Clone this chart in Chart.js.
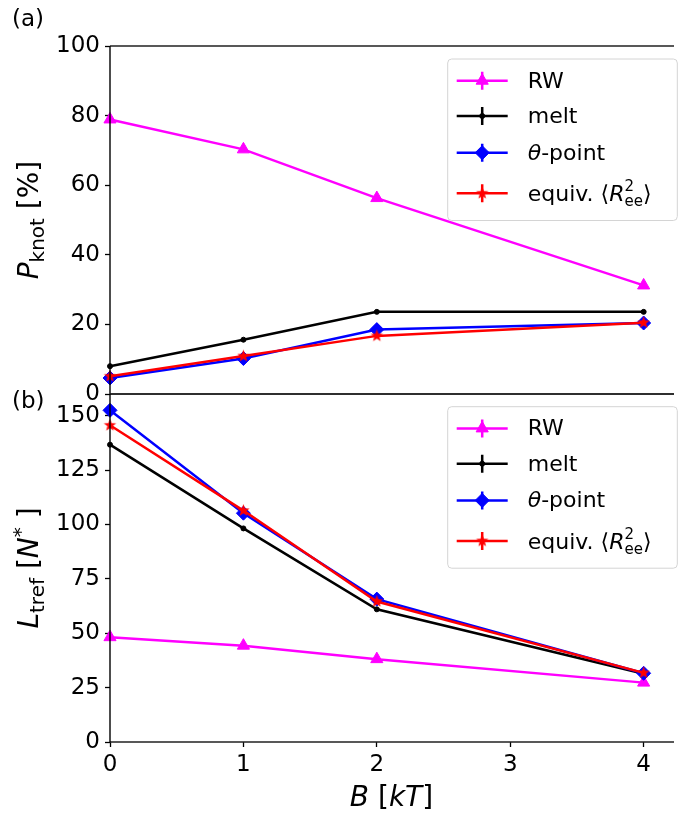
<!DOCTYPE html>
<html>
<head>
<meta charset="utf-8">
<script src="https://cdn.jsdelivr.net/npm/chart.js@4.4.1/dist/chart.umd.min.js"></script>
<style>
  body { margin: 0; background: #fff; }
  #wrap { position: relative; width: 681px; height: 815px; }
  canvas { position: absolute; left: 0; }
  #top { top: 0; }
  #bottom { top: 360px; }
</style>
</head>
<body>
<div id="wrap">
  <canvas id="top"></canvas>
  <canvas id="bottom"></canvas>
</div>
<script>
// x values (bending stiffness B in kT) and tick labels
const bValues = [0, 1, 2, 4];
const xTicks = [0, 1, 2, 3, 4];

// panel (a): knotting probability [%]
const pknotRW = [78.9, 70.3, 56.3, 31.2];
const pknotMelt = [8.0, 15.6, 23.6, 23.6];
const pknotTheta = [4.6, 10.2, 18.5, 20.4];
const pknotEquiv = [5.1, 10.9, 16.7, 20.5];
const pknotTicks = [0, 20, 40, 60, 80, 100];

// panel (b): trefoil length [N*]
const ltrefRW = [48.2, 44.3, 38.1, 27.3];
const ltrefMelt = [136.7, 98.2, 61.0, 31.4];
const ltrefTheta = [152.5, 105.2, 65.7, 31.6];
const ltrefEquiv = [145.6, 106.4, 64.6, 31.8];
const ltrefTicks = [0, 25, 50, 75, 100, 125, 150];

const seriesNames = ["RW", "melt", "θ-point", "equiv. ⟨R²ee⟩"];

const FONT = "'DejaVu Sans', sans-serif";

function font(size, italic) {
  return (italic ? "italic " : "") + size + "px " + FONT;
}

// filled 5-point star, matplotlib '*' marker look-alike
function makeStar(color, r) {
  const c = document.createElement("canvas");
  const s = Math.ceil(r * 2 + 2);
  c.width = s;
  c.height = s;
  const g = c.getContext("2d");
  g.fillStyle = color;
  g.beginPath();
  for (let k = 0; k < 10; k++) {
    const rr = k % 2 === 0 ? r : r * 0.42;
    const a = -Math.PI / 2 + (k * Math.PI) / 5;
    g.lineTo(s / 2 + rr * Math.cos(a), s / 2 + rr * Math.sin(a));
  }
  g.closePath();
  g.fill();
  return c;
}

const styles = [
  { color: "#ff00ff", pointStyle: "triangle", radius: 7 },
  { color: "#000000", pointStyle: "circle", radius: 2.5 },
  { color: "#0000ff", pointStyle: "rectRot", radius: 7 },
  { color: "#ff0000", pointStyle: makeStar("#ff0000", 6.5), radius: 6 },
];

// pieces of rich text: {t, size, italic, dy, stay}
function drawParts(ctx, parts, x, y, align) {
  let total = 0;
  for (const p of parts) {
    ctx.font = font(p.size, p.italic);
    if (!p.stay) total += ctx.measureText(p.t).width;
  }
  let cx = align === "center" ? x - total / 2 : x;
  ctx.textAlign = "left";
  ctx.textBaseline = "alphabetic";
  for (const p of parts) {
    ctx.font = font(p.size, p.italic);
    ctx.fillText(p.t, cx, y + (p.dy || 0));
    if (!p.stay) cx += ctx.measureText(p.t).width;
  }
}

const legendParts = [
  [{ t: "RW", size: 22 }],
  [{ t: "melt", size: 22 }],
  [{ t: "θ", size: 22, italic: true }, { t: "-point", size: 22 }],
  [
    { t: "equiv. ⟨", size: 22 },
    { t: "R", size: 22, italic: true },
    { t: "2", size: 15, dy: -10, stay: true },
    { t: "ee", size: 15, dy: 5 },
    { t: "⟩", size: 22 },
  ],
];

function makeDatasets(lists) {
  return lists.map((vals, i) => ({
    label: seriesNames[i],
    data: bValues.map((b, j) => ({ x: b, y: vals[j] })),
    borderColor: styles[i].color,
    backgroundColor: styles[i].color,
    pointBackgroundColor: styles[i].color,
    pointBorderColor: styles[i].color,
    pointStyle: styles[i].pointStyle,
    pointRadius: styles[i].radius,
    pointBorderWidth: 1,
    borderWidth: 2.5,
    clip: false,
    order: 4 - i,
  }));
}

// spines: black left, dark horizontal lines
const framePlugin = {
  id: "frame",
  afterDraw(chart) {
    const { ctx, chartArea: a } = chart;
    ctx.save();
    ctx.strokeStyle = "#222";
    ctx.lineWidth = 1.6;
    ctx.beginPath();
    ctx.moveTo(a.left, a.top);
    ctx.lineTo(a.right + 1, a.top);
    ctx.moveTo(a.left, a.bottom);
    ctx.lineTo(a.right + 1, a.bottom);
    ctx.stroke();
    ctx.strokeStyle = "#000";
    ctx.lineWidth = 1.4;
    ctx.beginPath();
    ctx.moveTo(a.left, a.top);
    ctx.lineTo(a.left, a.bottom);
    ctx.stroke();
    ctx.restore();
  },
};

const legendPlugin = {
  id: "panelLegend",
  afterDraw(chart, args, opts) {
    const ctx = chart.ctx;
    const x0 = opts.x, y0 = opts.y, w = 229.6, h = 161.5;
    ctx.save();
    ctx.beginPath();
    ctx.roundRect(x0, y0, w, h, 4);
    ctx.fillStyle = "rgba(255,255,255,0.8)";
    ctx.fill();
    ctx.strokeStyle = "#d4d4d4";
    ctx.lineWidth = 1;
    ctx.stroke();
    const rows = [21.7, 57, 93.7, 134.3];
    rows.forEach((dy, i) => {
      const cy = y0 + dy;
      const cx = x0 + 34.5;
      ctx.strokeStyle = styles[i].color;
      ctx.fillStyle = styles[i].color;
      ctx.lineWidth = 2.5;
      ctx.beginPath();
      ctx.moveTo(x0 + 9, cy);
      ctx.lineTo(x0 + 60, cy);
      ctx.moveTo(cx, cy - 9);
      ctx.lineTo(cx, cy + 9);
      ctx.stroke();
      ctx.lineWidth = 1;
      Chart.helpers.drawPoint(ctx, {
        pointStyle: styles[i].pointStyle,
        radius: styles[i].radius,
        rotation: 0,
        borderWidth: 1,
      }, cx, cy);
      ctx.fillStyle = "#000";
      drawParts(ctx, legendParts[i], x0 + 80, cy + (i === 3 ? 8 : 7), "left");
    });
    ctx.restore();
  },
};

const labelsPlugin = {
  id: "axisText",
  afterDraw(chart, args, opts) {
    const ctx = chart.ctx;
    const a = chart.chartArea;
    ctx.save();
    ctx.fillStyle = "#000";
    drawParts(ctx, [{ t: opts.panel, size: 23 }], 12, opts.panelY, "left");
    ctx.translate(38, (a.top + a.bottom) / 2);
    ctx.rotate(-Math.PI / 2);
    drawParts(ctx, opts.yTitle, 0, 0, "center");
    ctx.restore();
    if (opts.xTitle) {
      ctx.save();
      ctx.fillStyle = "#000";
      drawParts(ctx, opts.xTitle, (a.left + a.right) / 2, a.bottom + 64, "center");
      ctx.restore();
    }
  },
};

function setTicks(list) {
  return (scale) => {
    scale.ticks = list.map((v) => ({ value: v }));
  };
}

function yScale(ticks, max) {
  return {
    type: "linear",
    min: 0,
    max: max,
    afterBuildTicks: setTicks(ticks),
    afterFit(scale) {
      scale.width = 110;
    },
    grid: { drawOnChartArea: false, tickLength: 5, tickWidth: 1.3, tickColor: "#000" },
    border: { display: false },
    ticks: { font: { family: FONT, size: 23 }, color: "#000", padding: 5, autoSkip: false },
  };
}

function xScale(show) {
  return {
    type: "linear",
    min: 0,
    max: 4.22,
    display: show,
    afterBuildTicks: setTicks(xTicks),
    afterFit(scale) {
      scale.height = show ? 73 : 0;
    },
    grid: { drawOnChartArea: false, tickLength: 5, tickWidth: 1.3, tickColor: "#000" },
    border: { display: false },
    ticks: { font: { family: FONT, size: 23 }, color: "#000", padding: 4, autoSkip: false, maxRotation: 0 },
  };
}

function makeChart(id, w, h, lists, yTicks, yMax, padding, plugOpts) {
  const canvas = document.getElementById(id);
  canvas.width = w;
  canvas.height = h;
  canvas.style.width = w + "px";
  canvas.style.height = h + "px";
  return new Chart(canvas, {
    type: "line",
    data: { datasets: makeDatasets(lists) },
    options: {
      responsive: false,
      animation: false,
      devicePixelRatio: 1,
      layout: { padding: padding },
      scales: { x: xScale(plugOpts.showX), y: yScale(yTicks, yMax) },
      plugins: {
        legend: { display: false },
        tooltip: { enabled: false },
        panelLegend: plugOpts.legend,
        axisText: plugOpts.text,
      },
    },
    plugins: [framePlugin, legendPlugin, labelsPlugin],
  });
}

makeChart("top", 681, 420, [pknotRW, pknotMelt, pknotTheta, pknotEquiv], pknotTicks, 100,
  { top: 46, right: 1, bottom: 26, left: 0 },
  {
    showX: false,
    legend: { x: 447.7, y: 59 },
    text: {
      panel: "(a)",
      panelY: 26,
      yTitle: [
        { t: "P", size: 28, italic: true },
        { t: "knot", size: 20, dy: 6 },
        { t: " [%]", size: 28 },
      ],
    },
  });

// bottom canvas starts at 360px, so its plot top (34) meets the upper panel at 394
makeChart("bottom", 681, 455, [ltrefRW, ltrefMelt, ltrefTheta, ltrefEquiv], ltrefTicks, 160,
  { top: 34, right: 1, bottom: 0, left: 0 },
  {
    showX: true,
    legend: { x: 447.7, y: 46.7 },
    text: {
      panel: "(b)",
      panelY: 48,
      yTitle: [
        { t: "L", size: 28, italic: true },
        { t: "tref", size: 20, dy: 6 },
        { t: " [", size: 28 },
        { t: "N", size: 28, italic: true },
        { t: "*", size: 20, dy: -11 },
        { t: " ]", size: 28 },
      ],
      xTitle: [
        { t: "B", size: 28, italic: true },
        { t: " [", size: 28 },
        { t: "kT", size: 28, italic: true },
        { t: "]", size: 28 },
      ],
    },
  });
</script>
</body>
</html>
